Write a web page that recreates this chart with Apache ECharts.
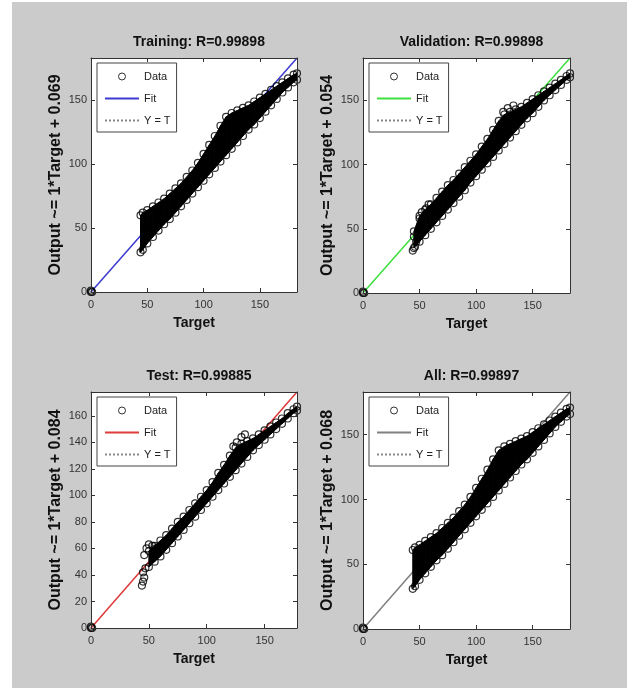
<!DOCTYPE html>
<html>
<head>
    <meta http-equiv="Content-Type" content="text/html; charset=utf-8" />
    <title>plotregression</title>
    <style>
        body { margin: 0; background: #fff; }
        #bg { position: absolute; left: 12px; top: 2px; width: 615px; height: 686px; background: #cbcbcb; }
        #container { position: absolute; left: 0; top: 0; width: 630px; height: 688px; }
    </style>
</head>
<body>
    <div id="bg"></div>
    <div id="container"></div>
    <script src="https://cdn.jsdelivr.net/npm/echarts@6/dist/echarts.min.js"></script>
    <script type="text/javascript">
    // --- data ---
    var panelTitles = ['Training: R=0.99898', 'Validation: R=0.99898', 'Test: R=0.99885', 'All: R=0.99897'];
    var yNames = ['Output ~= 1*Target + 0.069', 'Output ~= 1*Target + 0.054', 'Output ~= 1*Target + 0.084', 'Output ~= 1*Target + 0.068'];
    var intercepts = [0.069, 0.054, 0.084, 0.068];
    var axisMax = [183, 183, 178, 183];
    var yTickStep = [50, 50, 20, 50];
    var fitColors = ['#3b3bd0', '#3ee03e', '#e03a3a', '#808080'];

    // envelope of the data cloud: target, lower output, upper output
    var trainT = [44, 46, 50, 55, 60, 65, 70, 75, 80, 85, 90, 95, 100, 105, 110, 115, 120, 125, 130, 135, 140, 145, 150, 155, 160, 165, 170, 175, 180, 183];
    var trainLo = [31, 33, 38, 43, 48, 53, 57, 62, 67, 72, 77, 82, 87, 92, 97, 102, 107, 112, 117, 122, 127, 131, 136, 141, 146, 151, 156, 160, 164, 166];
    var trainHi = [60, 62, 64, 67, 70, 73, 77, 81, 85, 90, 95, 101, 108, 115, 122, 130, 137, 140, 142, 144, 146, 149, 152, 155, 158, 161, 164, 167, 170, 171];

    var valT = [45, 50, 55, 60, 65, 70, 75, 80, 85, 90, 95, 100, 105, 110, 115, 120, 125, 130, 135, 140, 145, 150, 155, 160, 165, 170, 175, 180, 183];
    var valLo = [35, 40, 45, 50, 55, 60, 65, 70, 75, 80, 86, 91, 96, 101, 106, 111, 116, 121, 126, 131, 136, 140, 145, 150, 154, 158, 162, 166, 168];
    var valHi = [48, 60, 65, 69, 74, 79, 84, 88, 93, 98, 103, 108, 114, 120, 127, 134, 139, 141, 143, 145, 148, 151, 154, 157, 160, 163, 166, 169, 171];
    var valExtra = [[44, 33], [46, 36], [47, 40], [45, 44], [50, 58], [52, 63], [56, 66], [58, 69], [124, 141], [128, 144], [133, 146]];

    var testT = [50, 55, 60, 65, 70, 75, 80, 85, 90, 95, 100, 105, 110, 115, 120, 125, 130, 135, 140, 145, 150, 155, 160, 165, 170, 175, 178];
    var testLo = [46, 50, 54, 59, 64, 69, 74, 79, 84, 89, 94, 99, 104, 109, 114, 119, 124, 129, 134, 138, 142, 146, 150, 154, 158, 162, 164];
    var testHi = [58, 62, 66, 70, 75, 80, 84, 89, 94, 99, 104, 110, 117, 123, 130, 136, 139, 141, 143, 146, 149, 152, 155, 158, 162, 165, 167];
    var testExtra = [[44, 32], [45, 35], [46, 38], [45, 42], [47, 45], [46, 55], [48, 60], [50, 63], [53, 62], [56, 60], [123, 137], [126, 140], [130, 144], [133, 146]];

    var allT = [44, 46, 50, 55, 60, 65, 70, 75, 80, 85, 90, 95, 100, 105, 110, 115, 120, 125, 130, 135, 140, 145, 150, 155, 160, 165, 170, 175, 180, 183];
    var allLo = [31, 33, 38, 43, 48, 53, 57, 62, 67, 72, 77, 82, 87, 92, 97, 102, 107, 112, 117, 122, 127, 131, 136, 141, 146, 151, 156, 160, 164, 166];
    var allHi = [61, 63, 65, 68, 71, 74, 78, 82, 86, 91, 96, 102, 109, 116, 123, 131, 138, 141, 143, 145, 147, 149, 152, 155, 158, 161, 164, 167, 170, 171];

    var origin = [[0, 0], [1, 0], [0, 1]];

    var clouds = [
        { t: trainT, lo: trainLo, hi: trainHi, extra: [] },
        { t: valT, lo: valLo, hi: valHi, extra: valExtra },
        { t: testT, lo: testLo, hi: testHi, extra: testExtra },
        { t: allT, lo: allLo, hi: allHi, extra: [] }
    ];

    // panel boxes in pixels
    var boxes = [
        { left: 91, top: 58, width: 206, height: 234 },
        { left: 363, top: 58, width: 207, height: 235 },
        { left: 91, top: 392, width: 206, height: 236 },
        { left: 363, top: 392, width: 207, height: 237 }
    ];

    var fontFam = '"Liberation Sans", Arial, sans-serif';
    var ink = '#333';

    var option = {
        animation: false,
        backgroundColor: 'transparent',
        title: [], grid: [], xAxis: [], yAxis: [], legend: [], series: []
    };

    function axisBase(max, step) {
        return {
            type: 'value', min: 0, max: max, interval: step, z: 6,
            axisLine: { show: true, onZero: false, lineStyle: { color: ink, width: 1 } },
            axisTick: { show: true, inside: true, length: 4, lineStyle: { color: ink } },
            splitLine: { show: false }
        };
    }

    // one quad of the dense band per pair of neighbouring envelope samples
    function renderBand(params, api) {
        var a = api.coord([api.value(0), api.value(1)]);
        var b = api.coord([api.value(0), api.value(2)]);
        var c = api.coord([api.value(3), api.value(5)]);
        var d = api.coord([api.value(3), api.value(4)]);
        return {
            type: 'polygon',
            shape: { points: [a, b, c, d] },
            style: { fill: '#000', stroke: '#000', lineWidth: 1 }
        };
    }

    for (var i = 0; i < 4; i++) {
        var b = boxes[i];
        var M = axisMax[i];
        var c = clouds[i];

        option.title.push({
            text: panelTitles[i], left: b.left + b.width / 2, top: b.top - 28, textAlign: 'center',
            textStyle: { fontFamily: fontFam, fontSize: 14, fontWeight: 'bold', color: '#111' }
        });
        option.grid.push({ left: b.left, top: b.top, width: b.width, height: b.height, backgroundColor: '#fff', show: true, borderWidth: 0 });

        var xb = axisBase(M, 50);
        xb.gridIndex = i;
        xb.position = 'bottom';
        xb.axisLabel = { color: ink, fontFamily: fontFam, fontSize: 11, margin: 7, showMaxLabel: false };
        xb.name = 'Target';
        xb.nameLocation = 'middle';
        xb.nameGap = 24;
        xb.nameTextStyle = { fontFamily: fontFam, fontSize: 14, fontWeight: 'bold', color: '#111' };
        var xt = axisBase(M, 50);
        xt.gridIndex = i;
        xt.position = 'top';
        xt.axisLabel = { show: false };
        option.xAxis.push(xb, xt);

        var yl = axisBase(M, yTickStep[i]);
        yl.gridIndex = i;
        yl.position = 'left';
        yl.axisLabel = { color: ink, fontFamily: fontFam, fontSize: 11, margin: 4, showMaxLabel: false };
        yl.name = yNames[i];
        yl.nameLocation = 'middle';
        yl.nameRotate = 90;
        yl.nameGap = 27;
        yl.nameTextStyle = { fontFamily: fontFam, fontSize: 16, fontWeight: 'bold', color: '#111' };
        var yr = axisBase(M, yTickStep[i]);
        yr.gridIndex = i;
        yr.position = 'right';
        yr.axisLabel = { show: false };
        option.yAxis.push(yl, yr);

        var xi = 2 * i, yi = 2 * i;
        var n = i + 1;

        // Y = T reference (dotted)
        option.series.push({
            name: 'Y = T#' + n, type: 'line', xAxisIndex: xi, yAxisIndex: yi, symbol: 'none', z: 2,
            lineStyle: { color: '#888', width: 1, type: 'dotted' },
            data: [[0, 0], [M, M]]
        });
        // fit line
        option.series.push({
            name: 'Fit#' + n, type: 'line', xAxisIndex: xi, yAxisIndex: yi, symbol: 'none', z: 3,
            lineStyle: { color: fitColors[i], width: 1.5 },
            data: [[0, intercepts[i]], [M, M + intercepts[i]]]
        });

        // dense part of the cloud: filled between lower and upper envelope
        var segs = [], edge = [];
        for (var k = 0; k < c.t.length; k++) {
            edge.push([c.t[k], c.lo[k]], [c.t[k], c.hi[k]]);
            if (k + 1 < c.t.length) {
                segs.push([c.t[k], c.lo[k], c.hi[k], c.t[k + 1], c.lo[k + 1], c.hi[k + 1]]);
            }
        }
        option.series.push({
            name: 'band#' + n, type: 'custom', xAxisIndex: xi, yAxisIndex: yi, z: 4,
            renderItem: renderBand, clip: true,
            encode: { x: [0, 3], y: [1, 2, 4, 5] },
            data: segs
        });

        option.series.push({
            name: 'Data#' + n, type: 'scatter', xAxisIndex: xi, yAxisIndex: yi, z: 5,
            symbol: 'circle', symbolSize: 7,
            itemStyle: { color: 'rgba(0,0,0,0)', borderColor: '#000', borderWidth: 1.2 },
            data: origin.concat(edge, c.extra)
        });

        option.legend.push({
            left: b.left + 6, top: b.top + 5, orient: 'vertical',
            selectedMode: false,
            backgroundColor: '#fff', borderColor: '#444', borderWidth: 1,
            padding: [8, 6, 6, 7],
            itemWidth: 34, itemHeight: 7, itemGap: 11,
            textStyle: { fontFamily: fontFam, fontSize: 11, color: '#222' },
            formatter: function (name) { return name.split('#')[0]; },
            data: [
                { name: 'Data#' + n, itemStyle: { color: 'rgba(0,0,0,0)', borderColor: '#000', borderWidth: 1 } },
                { name: 'Fit#' + n, itemStyle: { opacity: 0 } },
                { name: 'Y = T#' + n, itemStyle: { opacity: 0 } }
            ]
        });
    }

    var myChart = echarts.init(document.getElementById('container'));
    myChart.setOption(option);
    </script>
</body>
</html>
